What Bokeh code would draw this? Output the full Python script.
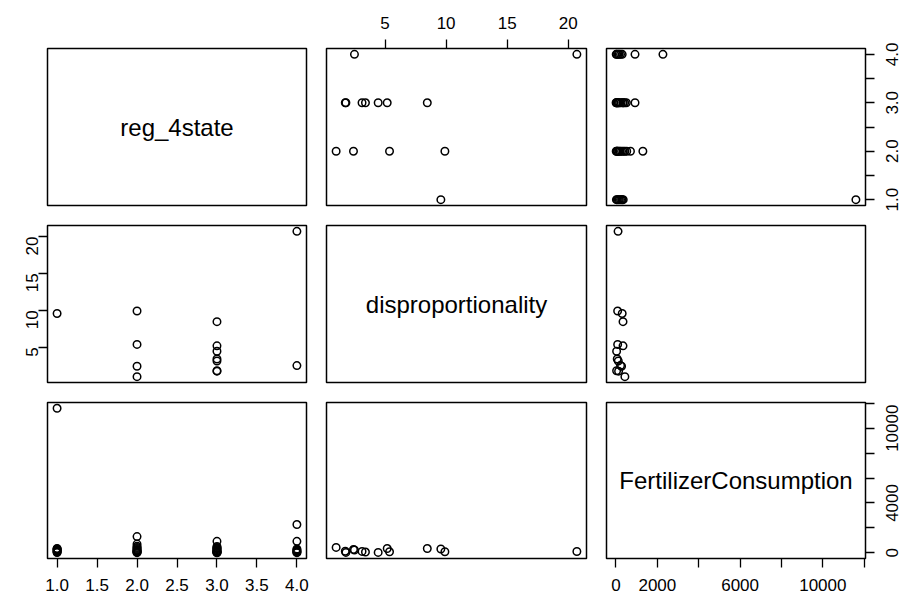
import math
import numpy as np
from bokeh.plotting import figure
from bokeh.layouts import gridplot, row as brow, column as bcol
from bokeh.models import Range1d, FixedTicker, LinearAxis
from bokeh.embed import file_html
from bokeh.resources import INLINE
from bokeh.core.properties import value

# ---------------- data ----------------
var_names = ["reg_4state", "disproportionality", "FertilizerConsumption"]

reg_4state = [1, 1, 1, 1, 1, 1, 1, 1, 1,
              2, 2, 2, 2, 2, 2, 2, 2, 2, 2, 2, 2,
              3, 3, 3, 3, 3, 3, 3, 3, 3, 3, 3, 3, 3,
              4, 4, 4, 4, 4, 4, 4, 4]
disproportionality = [9.57, np.nan, np.nan, np.nan, np.nan, np.nan, np.nan, np.nan, np.nan,
                      1.0, 2.42, 5.37, 9.9, np.nan, np.nan, np.nan, np.nan, np.nan, np.nan, np.nan, np.nan,
                      1.75, 1.8, 3.12, 3.4, 4.44, 5.18, 8.46, np.nan, np.nan, np.nan, np.nan, np.nan, np.nan,
                      2.5, 20.7, np.nan, np.nan, np.nan, np.nan, np.nan, np.nan]
fertilizer_consumption = [300, 11600, 20, 60, 110, 160, 220, 280, 350,
                          430, 270, 80, 80, 1300, 700, 10, 40, 150, 200, 350, 520,
                          125, 30, 110, 60, 30, 340, 340, 920, 5, 180, 250, 420, 500,
                          220, 100, 2270, 920, 10, 40, 150, 300]

reg_ticks = [1.0, 1.5, 2.0, 2.5, 3.0, 3.5, 4.0]
reg_labels_bottom = ["1.0", "1.5", "2.0", "2.5", "3.0", "3.5", "4.0"]
reg_labels_right = ["1.0", "", "2.0", "", "3.0", "", "4.0"]
disp_ticks = [5, 10, 15, 20]
disp_labels = ["5", "10", "15", "20"]
fert_ticks = [0, 2000, 4000, 6000, 8000, 10000, 12000]
fert_labels_bottom = ["0", "2000", "", "6000", "", "10000", ""]
fert_labels_right = ["0", "", "4000", "", "", "10000", ""]

# ---------------- layout ----------------
data = [np.array(reg_4state, float), np.array(disproportionality, float),
        np.array(fertilizer_consumption, float)]
ranges = []
for d in data:
    lo, hi = np.nanmin(d), np.nanmax(d)
    pad = 0.04 * (hi - lo)
    ranges.append((lo - pad, hi + pad))

col_border = [(47, 10), (10, 10), (10, 12)]
col_frame = [259, 260, 259]
row_border = [(48, 10), (10, 10), (10, 40)]
row_frame = [157, 157, 156]
LABEL_COL_W = 24

FONT = "Liberation Sans"
TICK_FS = "17px"


def style_axis(ax, ticks, labels, standoff=8):
    ax.ticker = FixedTicker(ticks=ticks)
    ax.major_label_overrides = {t: l for t, l in zip(ticks, labels)}
    ax.axis_line_color = None
    ax.major_tick_line_color = "black"
    ax.major_tick_line_width = 1.3
    ax.major_tick_out = 9
    ax.major_tick_in = 0
    ax.minor_tick_line_color = None
    ax.major_label_text_font = FONT
    ax.major_label_text_font_size = TICK_FS
    ax.major_label_text_color = "black"
    ax.major_label_standoff = standoff


def base_fig(w, h, xr, yr, borders, **kw):
    lb, rb, tb, bb = borders
    p = figure(width=w, height=h, x_range=xr, y_range=yr,
               output_backend="svg", toolbar_location=None, tools="",
               x_axis_location=None, y_axis_location=None, **kw)
    p.min_border_left = lb
    p.min_border_right = rb
    p.min_border_top = tb
    p.min_border_bottom = bb
    p.grid.grid_line_color = None
    p.background_fill_color = "white"
    p.border_fill_color = "white"
    return p


right_labels = {0: (reg_ticks, reg_labels_right), 2: (fert_ticks, fert_labels_right)}

panels = []
label_figs = []
for i in range(3):
    prow = []
    tb, bb = row_border[i]
    for j in range(3):
        lb, rb = col_border[j]
        p = base_fig(lb + col_frame[j] + rb, tb + row_frame[i] + bb,
                     Range1d(*ranges[j]), Range1d(*ranges[i]), (lb, rb, tb, bb))
        p.outline_line_color = "black"
        p.outline_line_width = 1.5
        p.outline_line_alpha = 1.0

        if i == j:
            cx = (ranges[j][0] + ranges[j][1]) / 2
            cy = (ranges[i][0] + ranges[i][1]) / 2
            p.text(x=[cx], y=[cy], text=[var_names[i]], text_align="center",
                   text_baseline="middle", text_font=value(FONT),
                   text_font_size="24px", text_color="black")
        else:
            xs, ys = data[j], data[i]
            m = ~(np.isnan(xs) | np.isnan(ys))
            p.scatter(xs[m], ys[m], marker="circle", size=7.5, fill_color=None,
                      line_color="black", line_width=1.5)

        # axes as in R pairs()
        if i == 0 and j == 1:
            ax = LinearAxis()
            style_axis(ax, disp_ticks, disp_labels, standoff=11)
            p.add_layout(ax, "above")
        if i == 2 and j == 0:
            ax = LinearAxis()
            style_axis(ax, reg_ticks, reg_labels_bottom, standoff=11)
            p.add_layout(ax, "below")
        if i == 2 and j == 2:
            ax = LinearAxis()
            style_axis(ax, fert_ticks, fert_labels_bottom, standoff=11)
            p.add_layout(ax, "below")
        if j == 2 and i in right_labels:
            ay = LinearAxis()
            tks = right_labels[i][0]
            style_axis(ay, tks, [""] * len(tks), standoff=0)
            ay.major_label_text_font_size = "0px"
            p.add_layout(ay, "right")
        if i == 1 and j == 0:
            ay = LinearAxis()
            style_axis(ay, disp_ticks, disp_labels, standoff=6)
            ay.major_label_orientation = math.pi / 2
            p.add_layout(ay, "left")
        prow.append(p)
    panels.append(prow)

    # narrow strip holding the right-hand axis labels (read bottom to top, as in R);
    # its frame spans the whole row height so labels are not clipped at the panel edge
    lo, hi = ranges[i]
    per_px = (hi - lo) / row_frame[i]
    q = base_fig(LABEL_COL_W, tb + row_frame[i] + bb, Range1d(0, LABEL_COL_W),
                 Range1d(lo - bb * per_px, hi + tb * per_px), (0, 0, 0, 0),
                 title_location=None)
    q.outline_line_color = None
    if i in right_labels:
        tks, lbls = right_labels[i]
        pos = [t for t, l in zip(tks, lbls) if l]
        txt = [l for l in lbls if l]
        q.text(x=[8] * len(pos), y=pos, text=txt, angle=math.pi / 2,
               text_align="center", text_baseline="top", text_font=value(FONT),
               text_font_size=TICK_FS, text_color="black")
    label_figs.append(q)

grid = gridplot(panels, toolbar_location=None)
layout = brow(grid, bcol(*label_figs, spacing=0), spacing=0)
open("out.html", "w").write(file_html(layout, INLINE))
